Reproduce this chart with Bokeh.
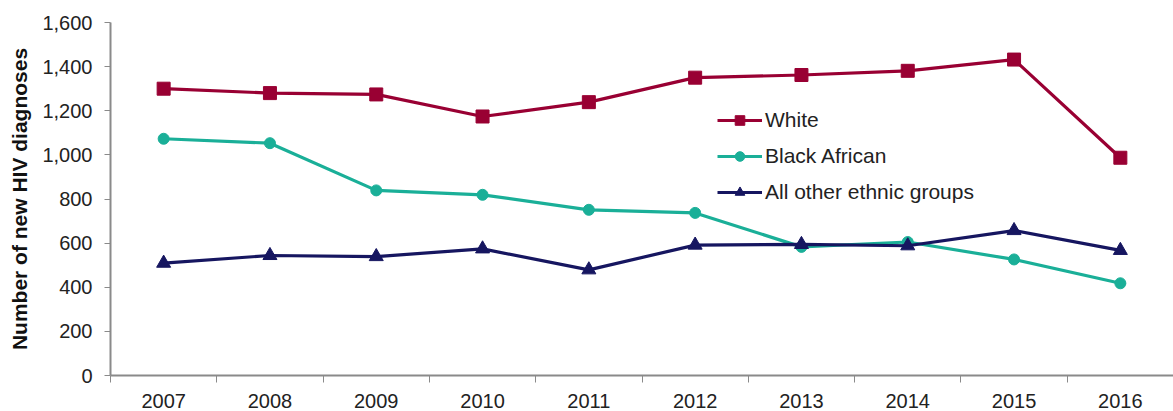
from bokeh.plotting import figure
from bokeh.models import FixedTicker, NumeralTickFormatter, Range1d, Legend, LegendItem
from bokeh.embed import file_html
from bokeh.resources import INLINE

years = ["2007", "2008", "2009", "2010", "2011", "2012", "2013", "2014", "2015", "2016"]
white = [1300, 1280, 1274, 1174, 1239, 1350, 1362, 1381, 1432, 987]
black_african = [1073, 1053, 839, 819, 751, 737, 583, 605, 526, 418]
other = [509, 544, 539, 574, 479, 591, 594, 588, 657, 567]
y_ticks = [0, 200, 400, 600, 800, 1000, 1200, 1400, 1600]

xs = list(range(len(years)))
FONT = "Liberation Sans"

p = figure(width=1173, height=411, output_backend="svg", toolbar_location=None,
           x_range=Range1d(-0.5, len(years) - 0.5), y_range=Range1d(0, 1600),
           min_border_left=110, min_border_right=0, min_border_top=22, min_border_bottom=36)
p.outline_line_color = None
p.xgrid.grid_line_color = None
p.ygrid.grid_line_color = None

c_white = "#990033"
c_black = "#1aaf98"
c_other = "#161660"

r1l = p.line(xs, white, line_color=c_white, line_width=3.2)
r1m = p.scatter(xs, white, marker="square", size=13, color=c_white)
r2l = p.line(xs, black_african, line_color=c_black, line_width=3.2)
r2m = p.scatter(xs, black_african, marker="circle", size=11, color=c_black)
r3l = p.line(xs, other, line_color=c_other, line_width=3.2)
r3m = p.scatter(xs, other, marker="triangle", size=14, color=c_other)

# X axis
p.xaxis.ticker = FixedTicker(ticks=xs, minor_ticks=[i - 0.5 for i in range(len(years) + 1)])
p.xaxis.major_label_overrides = {i: y for i, y in enumerate(years)}
p.xaxis.major_tick_out = 0
p.xaxis.major_tick_in = 0
p.xaxis.minor_tick_out = 7
p.xaxis.minor_tick_in = 0
p.xaxis.minor_tick_line_color = "#8a8a8a"
p.xaxis.axis_line_color = "#8a8a8a"
p.xaxis.axis_line_width = 2
p.xaxis.major_label_text_font = FONT
p.xaxis.major_label_text_font_size = "20px"
p.xaxis.major_label_text_color = "#222222"
p.xaxis.major_label_standoff = 11

# Y axis
p.yaxis.ticker = FixedTicker(ticks=y_ticks)
p.yaxis.formatter = NumeralTickFormatter(format="0,0")
p.yaxis.major_tick_out = 6
p.yaxis.major_tick_in = 0
p.yaxis.minor_tick_line_color = None
p.yaxis.major_tick_line_color = "#8a8a8a"
p.yaxis.axis_line_color = "#8a8a8a"
p.yaxis.axis_line_width = 2
p.yaxis.major_label_text_font = FONT
p.yaxis.major_label_text_font_size = "20px"
p.yaxis.major_label_text_color = "#222222"
p.yaxis.major_label_standoff = 12
p.yaxis.axis_label = "Number of new HIV diagnoses"
p.yaxis.axis_label_text_font = FONT
p.yaxis.axis_label_text_font_size = "21px"
p.yaxis.axis_label_text_font_style = "bold"
p.yaxis.axis_label_text_color = "#111111"
p.yaxis.axis_label_standoff = 8

legend = Legend(items=[
    LegendItem(label="White", renderers=[r1l, r1m]),
    LegendItem(label="Black African", renderers=[r2l, r2m]),
    LegendItem(label="All other ethnic groups", renderers=[r3l, r3m]),
], location=(607, 171))
legend.border_line_color = None
legend.background_fill_alpha = 0
legend.padding = 0
legend.margin = 0
legend.spacing = 12
legend.glyph_width = 45
legend.glyph_height = 24
legend.label_height = 24
legend.label_standoff = 3
legend.label_text_font = FONT
legend.label_text_font_size = "21px"
legend.label_text_color = "#222222"
p.add_layout(legend, "center")

open("out.html", "w").write(file_html(p, INLINE))
